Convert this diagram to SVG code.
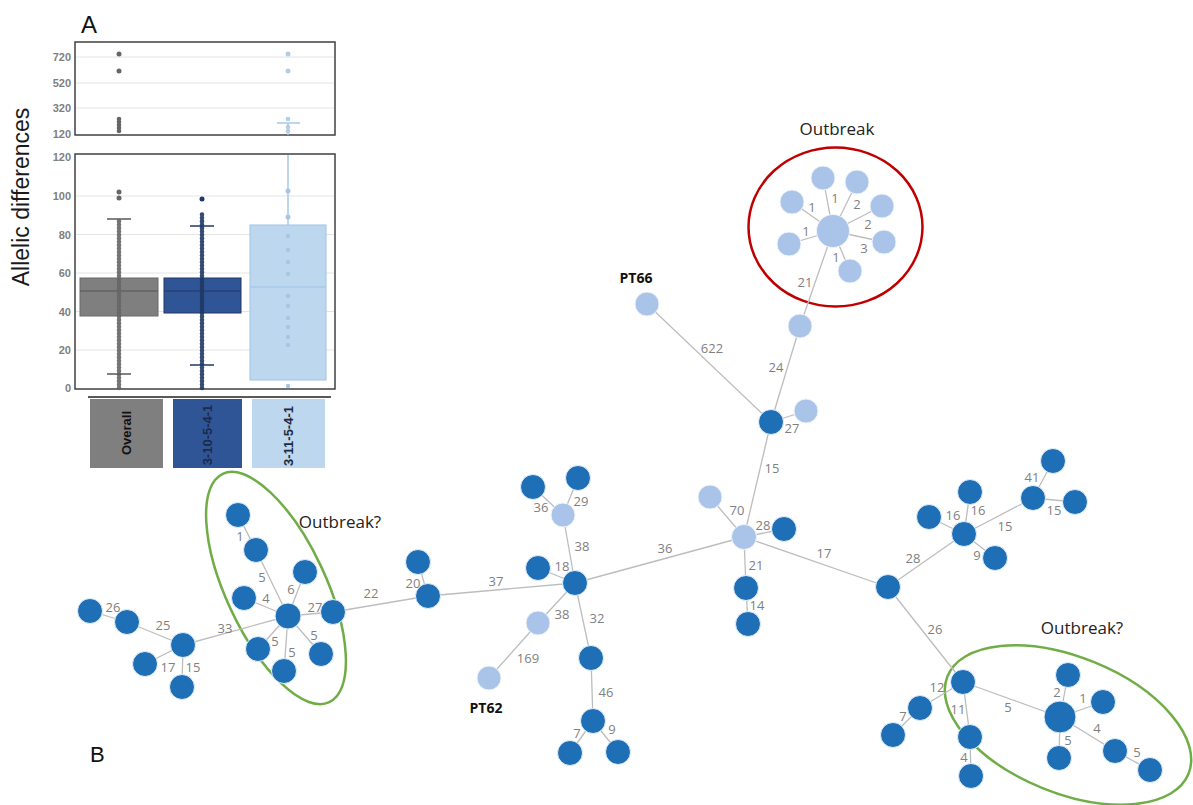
<svg xmlns="http://www.w3.org/2000/svg" width="1193" height="805" viewBox="0 0 1193 805">
  <style>
    .panel { fill: #ffffff; stroke: #404040; stroke-width: 1.5; }
    .grid { stroke: #e4e4e4; stroke-width: 1; }
    .tick { font-family: "Liberation Sans", Arial, sans-serif; font-size: 11px; font-weight: bold; fill: #7f7f7f; text-anchor: end; dominant-baseline: central; }
    .cat { font-family: "Liberation Sans", Arial, sans-serif; font-size: 13px; font-weight: bold; text-anchor: middle; dominant-baseline: central; }
    .e { stroke: #bdbdbd; stroke-width: 1.3; fill: none; }
    .el { font-family: "Open Sans", "Liberation Sans", sans-serif; font-size: 13px; fill: #7f7f7f; text-anchor: middle; dominant-baseline: central; }
    .d { fill: #1f6fb6; stroke: #e3f0fb; stroke-width: 1; }
    .l { fill: #a9c4e8; stroke: #eef4fb; stroke-width: 1; }
    .note { font-family: "Open Sans", "Liberation Sans", sans-serif; font-size: 17px; fill: #222222; text-anchor: middle; }
    .pt { font-family: "Open Sans", "Liberation Sans", sans-serif; font-size: 14px; font-weight: bold; fill: #111111; text-anchor: middle; }
    .panel-letter { font-family: "Liberation Sans", Arial, sans-serif; fill: #111111; }
  </style>

  <rect width="1193" height="805" fill="#ffffff"/>

  <!-- Panel A: box plots of allelic differences -->
  <g id="panel-a">
    <text class="panel-letter" x="81" y="33" font-size="24">A</text>
    <text x="29" y="197" transform="rotate(-90 29 197)" font-family="Liberation Sans, Arial, sans-serif" font-size="23" fill="#1a1a1a" text-anchor="middle">Allelic differences</text>

    <!-- upper (broken) axis section -->
    <rect class="panel" x="75" y="42" width="260" height="93"/>
    <line class="grid" x1="76" y1="57" x2="334" y2="57"/>
    <line class="grid" x1="76" y1="83" x2="334" y2="83"/>
    <line class="grid" x1="76" y1="108" x2="334" y2="108"/>
    <text class="tick" x="71" y="57">720</text>
    <text class="tick" x="71" y="83">520</text>
    <text class="tick" x="71" y="108">320</text>
    <text class="tick" x="71" y="134">120</text>

    <g fill="#666666">
      <circle cx="119" cy="54" r="2.5"/>
      <circle cx="119" cy="71" r="2.5"/>
      <circle cx="119" cy="119" r="2.3"/>
      <circle cx="119" cy="122" r="2.3"/>
      <circle cx="119" cy="125" r="2.3"/>
      <circle cx="119" cy="128" r="2.3"/>
      <circle cx="119" cy="131" r="2.3"/>
    </g>
    <line x1="288" y1="123" x2="288" y2="135" stroke="#a9c9e6" stroke-width="1.5"/>
    <line x1="277" y1="123" x2="300" y2="123" stroke="#a9c9e6" stroke-width="1.5"/>
    <g fill="#b3cde8">
      <circle cx="288" cy="54" r="2.5"/>
      <circle cx="288" cy="71" r="2.5"/>
      <circle cx="288" cy="119" r="2.3"/>
      <circle cx="288" cy="127" r="2.3"/>
      <circle cx="288" cy="131" r="2.3"/>
    </g>

    <!-- lower axis section -->
    <rect class="panel" x="75" y="154" width="260" height="235"/>
    <line class="grid" x1="76" y1="196" x2="334" y2="196"/>
    <line class="grid" x1="76" y1="234.5" x2="334" y2="234.5"/>
    <line class="grid" x1="76" y1="273" x2="334" y2="273"/>
    <line class="grid" x1="76" y1="311.5" x2="334" y2="311.5"/>
    <line class="grid" x1="76" y1="350" x2="334" y2="350"/>
    <text class="tick" x="71" y="157">120</text>
    <text class="tick" x="71" y="196">100</text>
    <text class="tick" x="71" y="234.5">80</text>
    <text class="tick" x="71" y="273">60</text>
    <text class="tick" x="71" y="311.5">40</text>
    <text class="tick" x="71" y="350">20</text>
    <text class="tick" x="71" y="388">0</text>

    <!-- Overall -->
    <rect x="80" y="278" width="78" height="38" fill="#7f7f7f" stroke="#6a6a6a"/>
    <line x1="80" y1="291" x2="158" y2="291" stroke="#555555" stroke-width="1.2"/>
    <line x1="119" y1="388" x2="119" y2="220" stroke="#666666" stroke-width="4.6" stroke-linecap="round" stroke-dasharray="0.1 3.3" opacity="0.9"/>
    <circle cx="119" cy="192" r="2.5" fill="#666666"/>
    <circle cx="119" cy="198" r="2.5" fill="#666666"/>
    <line x1="107" y1="219" x2="131" y2="219" stroke="#595959" stroke-width="1.5"/>
    <line x1="107" y1="374" x2="131" y2="374" stroke="#595959" stroke-width="1.5"/>

    <!-- 3-10-5-4-1 -->
    <rect x="164" y="278" width="77" height="35" fill="#2f5597" stroke="#203864"/>
    <line x1="164" y1="291" x2="241" y2="291" stroke="#1f3864" stroke-width="1.2"/>
    <line x1="202" y1="388" x2="202" y2="212" stroke="#1f3864" stroke-width="4.6" stroke-linecap="round" stroke-dasharray="0.1 3.3" opacity="0.9"/>
    <circle cx="202" cy="199" r="2.5" fill="#1f3864"/>
    <line x1="190" y1="226" x2="214" y2="226" stroke="#1f3864" stroke-width="1.5"/>
    <line x1="190" y1="365" x2="214" y2="365" stroke="#1f3864" stroke-width="1.5"/>

    <!-- 3-11-5-4-1 -->
    <line x1="288" y1="155" x2="288" y2="225" stroke="#a9c9e6" stroke-width="1.5"/>
    <rect x="250" y="225" width="76" height="155" fill="#bdd7ee" stroke="#9dc3e6"/>
    <line x1="250" y1="287" x2="326" y2="287" stroke="#9dc3e6" stroke-width="1.2"/>
    <g fill="#a6c6e6">
      <circle cx="288" cy="191" r="2.5"/>
      <circle cx="288" cy="217" r="2.5"/>
      <circle cx="288" cy="236" r="2.2"/>
      <circle cx="288" cy="250" r="2.2"/>
      <circle cx="288" cy="262" r="2.2"/>
      <circle cx="288" cy="274" r="2.2"/>
      <circle cx="288" cy="296" r="2.2"/>
      <circle cx="288" cy="306" r="2.2"/>
      <circle cx="288" cy="318" r="2.2"/>
      <circle cx="288" cy="327" r="2.2"/>
      <circle cx="288" cy="337" r="2.2"/>
      <circle cx="288" cy="345" r="2.2"/>
      <circle cx="288" cy="386" r="2.2"/>
    </g>

    <!-- category legend bars -->
    <line x1="88" y1="397" x2="331" y2="397" stroke="#595959" stroke-width="2"/>
    <rect x="90" y="399" width="73" height="69" fill="#7f7f7f"/>
    <rect x="173" y="399" width="69" height="69" fill="#2f5597"/>
    <rect x="252" y="399" width="73" height="69" fill="#bdd7ee"/>
    <text class="cat" x="126.5" y="433" transform="rotate(-90 126.5 433)" fill="#111111">Overall</text>
    <text class="cat" x="207.5" y="435" transform="rotate(-90 207.5 435)" fill="#1c2a4a">3-10-5-4-1</text>
    <text class="cat" x="288.5" y="436" transform="rotate(-90 288.5 436)" fill="#1c2a3d">3-11-5-4-1</text>
  </g>

  <!-- Panel B: minimum spanning tree -->
  <text class="panel-letter" x="90" y="762" font-size="22">B</text>

  <g id="cluster-outlines" fill="none" stroke-width="2.5">
    <ellipse cx="835.5" cy="227" rx="87" ry="79.5" stroke="#c00000"/>
    <ellipse cx="276" cy="588" rx="50" ry="126" transform="rotate(-25 276 588)" stroke="#70ad47"/>
    <ellipse cx="1068" cy="725" rx="130" ry="68" transform="rotate(22 1068 725)" stroke="#70ad47"/>
  </g>

  <g id="annotations">
    <text class="note" x="837" y="135">Outbreak</text>
    <text class="note" x="340" y="528">Outbreak?</text>
    <text class="note" x="1082" y="634">Outbreak?</text>
    <text class="pt" x="636" y="283">PT66</text>
    <text class="pt" x="486" y="713">PT62</text>
  </g>

  <g id="connectors">
    <g id="edges">
      <!-- outbreak star -->
      <line class="e" x1="833" y1="231" x2="823" y2="178"/>
      <line class="e" x1="833" y1="231" x2="857" y2="182"/>
      <line class="e" x1="833" y1="231" x2="882" y2="206"/>
      <line class="e" x1="833" y1="231" x2="884" y2="242"/>
      <line class="e" x1="833" y1="231" x2="850" y2="271"/>
      <line class="e" x1="833" y1="231" x2="789" y2="244"/>
      <line class="e" x1="833" y1="231" x2="792" y2="202"/>
      <line class="e" x1="833" y1="231" x2="800" y2="326"/>
      <!-- trunk -->
      <line class="e" x1="800" y1="326" x2="771" y2="422"/>
      <line class="e" x1="771" y1="422" x2="806" y2="411"/>
      <line class="e" x1="771" y1="422" x2="647" y2="304"/>
      <line class="e" x1="771" y1="422" x2="744" y2="537"/>
      <line class="e" x1="744" y1="537" x2="710" y2="497"/>
      <line class="e" x1="744" y1="537" x2="784" y2="529"/>
      <line class="e" x1="744" y1="537" x2="746" y2="588"/>
      <line class="e" x1="746" y1="588" x2="748" y2="624"/>
      <line class="e" x1="744" y1="537" x2="575" y2="583"/>
      <line class="e" x1="744" y1="537" x2="888" y2="587"/>
      <!-- right branch -->
      <line class="e" x1="888" y1="587" x2="964" y2="534"/>
      <line class="e" x1="964" y1="534" x2="929" y2="517"/>
      <line class="e" x1="964" y1="534" x2="970" y2="492"/>
      <line class="e" x1="964" y1="534" x2="995" y2="558"/>
      <line class="e" x1="964" y1="534" x2="1033" y2="498"/>
      <line class="e" x1="1033" y1="498" x2="1053" y2="461"/>
      <line class="e" x1="1033" y1="498" x2="1075" y2="502"/>
      <!-- lower right branch -->
      <line class="e" x1="888" y1="587" x2="963" y2="682"/>
      <line class="e" x1="963" y1="682" x2="920" y2="708"/>
      <line class="e" x1="920" y1="708" x2="893" y2="735"/>
      <line class="e" x1="963" y1="682" x2="970" y2="737"/>
      <line class="e" x1="970" y1="737" x2="971" y2="776"/>
      <line class="e" x1="963" y1="682" x2="1060" y2="717"/>
      <line class="e" x1="1060" y1="717" x2="1068" y2="675"/>
      <line class="e" x1="1060" y1="717" x2="1103" y2="702"/>
      <line class="e" x1="1060" y1="717" x2="1059" y2="758"/>
      <line class="e" x1="1060" y1="717" x2="1115" y2="751"/>
      <line class="e" x1="1115" y1="751" x2="1150" y2="770"/>
      <!-- middle -->
      <line class="e" x1="575" y1="583" x2="563" y2="515"/>
      <line class="e" x1="563" y1="515" x2="533" y2="487"/>
      <line class="e" x1="563" y1="515" x2="578" y2="478"/>
      <line class="e" x1="575" y1="583" x2="538" y2="568"/>
      <line class="e" x1="575" y1="583" x2="428" y2="596"/>
      <line class="e" x1="428" y1="596" x2="418" y2="562"/>
      <line class="e" x1="575" y1="583" x2="538" y2="623"/>
      <line class="e" x1="538" y1="623" x2="489" y2="678"/>
      <line class="e" x1="575" y1="583" x2="591" y2="658"/>
      <line class="e" x1="591" y1="658" x2="593" y2="721"/>
      <line class="e" x1="593" y1="721" x2="570" y2="753"/>
      <line class="e" x1="593" y1="721" x2="618" y2="752"/>
      <!-- left -->
      <line class="e" x1="428" y1="596" x2="333" y2="612"/>
      <line class="e" x1="333" y1="612" x2="288" y2="616"/>
      <line class="e" x1="288" y1="616" x2="256" y2="550"/>
      <line class="e" x1="256" y1="550" x2="238" y2="515"/>
      <line class="e" x1="288" y1="616" x2="305" y2="572"/>
      <line class="e" x1="288" y1="616" x2="244" y2="598"/>
      <line class="e" x1="288" y1="616" x2="258" y2="649"/>
      <line class="e" x1="288" y1="616" x2="284" y2="671"/>
      <line class="e" x1="288" y1="616" x2="321" y2="654"/>
      <line class="e" x1="288" y1="616" x2="183" y2="645"/>
      <line class="e" x1="183" y1="645" x2="127" y2="622"/>
      <line class="e" x1="127" y1="622" x2="90" y2="611"/>
      <line class="e" x1="183" y1="645" x2="145" y2="664"/>
      <line class="e" x1="183" y1="645" x2="182" y2="687"/>
    </g>
    <g id="edge-labels">
      <text class="el" x="812" y="207">1</text>
      <text class="el" x="835" y="198">1</text>
      <text class="el" x="857" y="204">2</text>
      <text class="el" x="868" y="224">2</text>
      <text class="el" x="864" y="248">3</text>
      <text class="el" x="836" y="257">1</text>
      <text class="el" x="806" y="231">1</text>
      <text class="el" x="805" y="282">21</text>
      <text class="el" x="776" y="367">24</text>
      <text class="el" x="792" y="428">27</text>
      <text class="el" x="712" y="348">622</text>
      <text class="el" x="772" y="468">15</text>
      <text class="el" x="737" y="510">70</text>
      <text class="el" x="763" y="525">28</text>
      <text class="el" x="756" y="565">21</text>
      <text class="el" x="757" y="605">14</text>
      <text class="el" x="665" y="548">36</text>
      <text class="el" x="824" y="553">17</text>
      <text class="el" x="913" y="558">28</text>
      <text class="el" x="953" y="515">16</text>
      <text class="el" x="978" y="510">16</text>
      <text class="el" x="977" y="555">9</text>
      <text class="el" x="1005" y="526">15</text>
      <text class="el" x="1032" y="477">41</text>
      <text class="el" x="1054" y="510">15</text>
      <text class="el" x="935" y="629">26</text>
      <text class="el" x="937" y="687">12</text>
      <text class="el" x="903" y="716">7</text>
      <text class="el" x="958" y="709">11</text>
      <text class="el" x="964" y="757">4</text>
      <text class="el" x="1008" y="707">5</text>
      <text class="el" x="1057" y="692">2</text>
      <text class="el" x="1083" y="698">1</text>
      <text class="el" x="1068" y="740">5</text>
      <text class="el" x="1097" y="728">4</text>
      <text class="el" x="1137" y="752">5</text>
      <text class="el" x="541" y="507">36</text>
      <text class="el" x="581" y="501">29</text>
      <text class="el" x="582" y="546">38</text>
      <text class="el" x="562" y="566">18</text>
      <text class="el" x="413" y="583">20</text>
      <text class="el" x="496" y="581">37</text>
      <text class="el" x="562" y="614">38</text>
      <text class="el" x="597" y="618">32</text>
      <text class="el" x="528" y="658">169</text>
      <text class="el" x="606" y="692">46</text>
      <text class="el" x="577" y="733">7</text>
      <text class="el" x="612" y="729">9</text>
      <text class="el" x="371" y="593">22</text>
      <text class="el" x="315" y="607">27</text>
      <text class="el" x="240" y="536">1</text>
      <text class="el" x="262" y="577">5</text>
      <text class="el" x="291" y="589">6</text>
      <text class="el" x="266" y="598">4</text>
      <text class="el" x="275" y="641">5</text>
      <text class="el" x="292" y="652">5</text>
      <text class="el" x="314" y="635">5</text>
      <text class="el" x="225" y="628">33</text>
      <text class="el" x="163" y="625">25</text>
      <text class="el" x="113" y="607">26</text>
      <text class="el" x="168" y="667">17</text>
      <text class="el" x="193" y="667">15</text>
    </g>
  </g>

  <g id="nodes">
    <!-- outbreak cluster -->
    <g id="ob-hub"><circle class="l" cx="833" cy="231" r="16.5"/></g>
    <g id="ob-1"><circle class="l" cx="823" cy="178" r="12"/></g>
    <g id="ob-2"><circle class="l" cx="857" cy="182" r="12"/></g>
    <g id="ob-3"><circle class="l" cx="882" cy="206" r="12"/></g>
    <g id="ob-4"><circle class="l" cx="884" cy="242" r="12"/></g>
    <g id="ob-5"><circle class="l" cx="850" cy="271" r="12"/></g>
    <g id="ob-6"><circle class="l" cx="789" cy="244" r="12"/></g>
    <g id="ob-7"><circle class="l" cx="792" cy="202" r="12"/></g>
    <!-- trunk -->
    <g id="t-1"><circle class="l" cx="800" cy="326" r="12"/></g>
    <g id="t-2"><circle class="d" cx="771" cy="422" r="12.5"/></g>
    <g id="t-3"><circle class="l" cx="806" cy="411" r="12"/></g>
    <g id="pt66"><circle class="l" cx="647" cy="304" r="12"/></g>
    <g id="t-hub"><circle class="l" cx="744" cy="537" r="12.5"/></g>
    <g id="t-4"><circle class="l" cx="710" cy="497" r="12"/></g>
    <g id="t-5"><circle class="d" cx="784" cy="529" r="12.5"/></g>
    <g id="t-6"><circle class="d" cx="746" cy="588" r="12.5"/></g>
    <g id="t-7"><circle class="d" cx="748" cy="624" r="12.5"/></g>
    <!-- right branch -->
    <g id="r-1"><circle class="d" cx="888" cy="587" r="12.5"/></g>
    <g id="r-2"><circle class="d" cx="964" cy="534" r="12.5"/></g>
    <g id="r-3"><circle class="d" cx="929" cy="517" r="12.5"/></g>
    <g id="r-4"><circle class="d" cx="970" cy="492" r="12.5"/></g>
    <g id="r-5"><circle class="d" cx="995" cy="558" r="12.5"/></g>
    <g id="r-6"><circle class="d" cx="1033" cy="498" r="12.5"/></g>
    <g id="r-7"><circle class="d" cx="1053" cy="461" r="12.5"/></g>
    <g id="r-8"><circle class="d" cx="1075" cy="502" r="12.5"/></g>
    <!-- lower right cluster -->
    <g id="br-1"><circle class="d" cx="963" cy="682" r="12.5"/></g>
    <g id="br-2"><circle class="d" cx="920" cy="708" r="12.5"/></g>
    <g id="br-3"><circle class="d" cx="893" cy="735" r="12.5"/></g>
    <g id="br-4"><circle class="d" cx="970" cy="737" r="12.5"/></g>
    <g id="br-5"><circle class="d" cx="971" cy="776" r="12.5"/></g>
    <g id="br-hub"><circle class="d" cx="1060" cy="717" r="16"/></g>
    <g id="br-6"><circle class="d" cx="1068" cy="675" r="12.5"/></g>
    <g id="br-7"><circle class="d" cx="1103" cy="702" r="12.5"/></g>
    <g id="br-8"><circle class="d" cx="1059" cy="758" r="12.5"/></g>
    <g id="br-9"><circle class="d" cx="1115" cy="751" r="12.5"/></g>
    <g id="br-10"><circle class="d" cx="1150" cy="770" r="12.5"/></g>
    <!-- middle -->
    <g id="m-hub"><circle class="d" cx="575" cy="583" r="12.5"/></g>
    <g id="m-1"><circle class="l" cx="563" cy="515" r="12"/></g>
    <g id="m-2"><circle class="d" cx="533" cy="487" r="12.5"/></g>
    <g id="m-3"><circle class="d" cx="578" cy="478" r="12.5"/></g>
    <g id="m-4"><circle class="d" cx="538" cy="568" r="12.5"/></g>
    <g id="m-5"><circle class="d" cx="428" cy="596" r="12.5"/></g>
    <g id="m-6"><circle class="d" cx="418" cy="562" r="12.5"/></g>
    <g id="m-7"><circle class="l" cx="538" cy="623" r="12"/></g>
    <g id="pt62"><circle class="l" cx="489" cy="678" r="12"/></g>
    <g id="m-8"><circle class="d" cx="591" cy="658" r="12.5"/></g>
    <g id="m-9"><circle class="d" cx="593" cy="721" r="12.5"/></g>
    <g id="m-10"><circle class="d" cx="570" cy="753" r="12.5"/></g>
    <g id="m-11"><circle class="d" cx="618" cy="752" r="12.5"/></g>
    <!-- left cluster -->
    <g id="l-hub"><circle class="d" cx="288" cy="616" r="13"/></g>
    <g id="l-1"><circle class="d" cx="333" cy="612" r="12.5"/></g>
    <g id="l-2"><circle class="d" cx="256" cy="550" r="12.5"/></g>
    <g id="l-3"><circle class="d" cx="238" cy="515" r="12.5"/></g>
    <g id="l-4"><circle class="d" cx="305" cy="572" r="12.5"/></g>
    <g id="l-5"><circle class="d" cx="244" cy="598" r="12.5"/></g>
    <g id="l-6"><circle class="d" cx="258" cy="649" r="12.5"/></g>
    <g id="l-7"><circle class="d" cx="284" cy="671" r="12.5"/></g>
    <g id="l-8"><circle class="d" cx="321" cy="654" r="12.5"/></g>
    <g id="l-9"><circle class="d" cx="183" cy="645" r="12.5"/></g>
    <g id="l-10"><circle class="d" cx="127" cy="622" r="12.5"/></g>
    <g id="l-11"><circle class="d" cx="90" cy="611" r="12.5"/></g>
    <g id="l-12"><circle class="d" cx="145" cy="664" r="12.5"/></g>
    <g id="l-13"><circle class="d" cx="182" cy="687" r="12.5"/></g>
  </g>
</svg>
